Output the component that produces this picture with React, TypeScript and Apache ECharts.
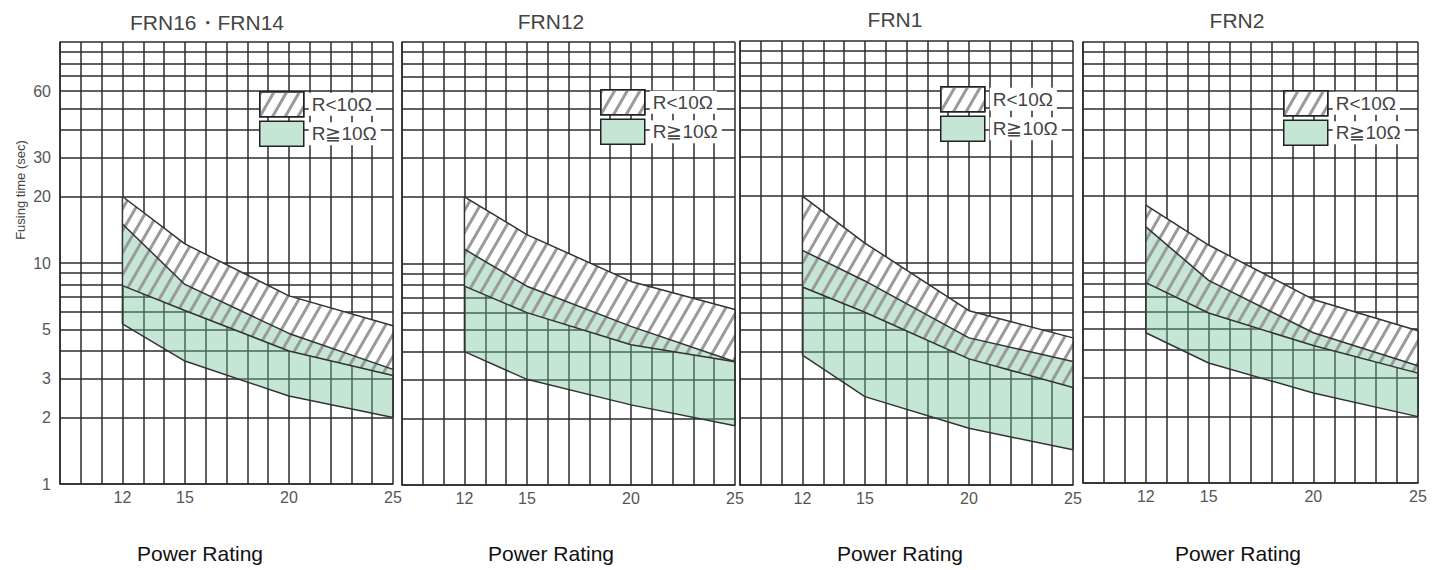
import React, { useEffect, useRef } from 'react';
import * as echarts from 'echarts';

// ---------------- data ----------------
const xs = [12, 15, 20, 25];
const panelTitles = ['FRN16・FRN14', 'FRN12', 'FRN1', 'FRN2'];
// R<10Ω band: upper boundary / lower boundary (one row per panel)
const rLt10Upper = [
  [20, 12.2, 7.1, 5.2],
  [20, 13.5, 8.3, 6.2],
  [20, 12.3, 6.1, 4.6],
  [18.2, 12, 6.8, 4.9],
];
const rLt10Lower = [
  [7.9, 6.1, 4.0, 3.1],
  [7.9, 6.0, 4.3, 3.6],
  [7.8, 6.0, 3.7, 2.75],
  [8.1, 5.9, 4.2, 3.15],
];
// R≧10Ω band: upper boundary / lower boundary
const rGe10Upper = [
  [15, 8.0, 4.8, 3.3],
  [11.6, 7.9, 5.2, 3.6],
  [11.4, 8.3, 4.6, 3.6],
  [14.5, 8.3, 4.8, 3.4],
];
const rGe10Lower = [
  [5.3, 3.6, 2.5, 2.0],
  [4.0, 3.0, 2.3, 1.85],
  [3.85, 2.5, 1.8, 1.44],
  [4.8, 3.5, 2.56, 2.0],
];
const yGridValues = [1, 2, 3, 4, 5, 6, 7, 8, 9, 10, 20, 30, 40, 50, 60, 70, 80, 90, 100];
const yTickLabels = [1, 2, 3, 5, 10, 20, 30, 60];
const xTickLabels = [12, 15, 20, 25];
const legendNames = ['R<10Ω', 'R≧10Ω'];

// ---------------- layout / style ----------------
const grids = [
  { left: 60, top: 42, width: 333, height: 442 },
  { left: 402, top: 42, width: 333, height: 443 },
  { left: 740, top: 41, width: 333, height: 444 },
  { left: 1083, top: 42, width: 335, height: 441 },
];
const legendPos = [[259, 91], [600, 89], [940, 86], [1283, 90]];
const titlePos = [[207, 22], [551, 21], [895, 19], [1237, 20]];
const xNamePos = [[200, 553], [551, 553], [900, 553], [1238, 553]];

const FONT = '"Liberation Sans", Arial, Helvetica, sans-serif';
const GREEN = '#c6e6d5';
// translucent green (over white it gives GREEN) so the grid shows through
const GREEN_TRANSLUCENT = '#70c096';
const GREEN_TRANSLUCENT_OPACITY = 0.4;
const GRID_COLOR = '#2b2b2b';
const CURVE_COLOR = '#333';

const hatch = {
  symbol: 'rect',
  symbolSize: 1,
  dashArrayX: [1, 0],
  dashArrayY: [3, 8],
  rotation: -Math.PI / 3,
  color: '#9a9a9a',
};

const pts = (ys: number[]) => xs.map((x, i) => [x, ys[i]]);
// closed band: along the upper boundary, then back along the lower boundary
const band = (upper: number[], lower: number[]) => [...pts(upper), ...pts(lower).reverse()];

function buildOption() {
  const series: any[] = [];
  grids.forEach((_, i) => {
    const A = rLt10Upper[i];
    const B = rGe10Upper[i];
    const C = rLt10Lower[i];
    const D = rGe10Lower[i];
    const common = {
      type: 'line',
      xAxisIndex: i,
      yAxisIndex: i,
      symbol: 'none',
      showSymbol: false,
      silent: true,
      animation: false,
    };
    // log grid lines + y tick labels
    series.push({
      ...common,
      name: '_grid' + i,
      data: [],
      z: 2,
      markLine: {
        silent: true,
        z: 2,
        animation: false,
        symbol: ['none', 'none'],
        lineStyle: { color: GRID_COLOR, width: 1.5, type: 'solid' },
        emphasis: { disabled: true },
        data: yGridValues.map((v) => ({
          yAxis: v,
          label:
            i === 0 && yTickLabels.includes(v)
              ? { show: true, position: 'start', formatter: String(v), distance: 9, fontSize: 16, color: '#555', fontFamily: FONT }
              : { show: false },
        })),
      },
    });
    const areaLine = { width: 0, opacity: 0 };
    // R≧10Ω only part: translucent green, grid visible through it
    series.push({
      ...common,
      name: 'R≧10Ω',
      data: band(C, D),
      color: GREEN,
      lineStyle: areaLine,
      areaStyle: { color: GREEN_TRANSLUCENT, opacity: GREEN_TRANSLUCENT_OPACITY, origin: 'start' },
      z: 3,
    });
    // overlap of both bands: green + hatch
    series.push({
      ...common,
      name: '_overlap' + i,
      data: band(B, C),
      color: GREEN,
      lineStyle: areaLine,
      areaStyle: { color: GREEN, opacity: 1, origin: 'start' },
      itemStyle: { color: GREEN, decal: hatch },
      z: 3,
    });
    // R<10Ω only part: white + hatch
    series.push({
      ...common,
      name: 'R<10Ω',
      data: band(A, B),
      color: '#ffffff',
      lineStyle: areaLine,
      areaStyle: { color: '#ffffff', opacity: 1, origin: 'start' },
      itemStyle: { color: '#ffffff', decal: hatch },
      z: 3,
    });
    // boundary curves
    [A, B, C, D].forEach((c, k) => {
      series.push({ ...common, name: '_curve' + i + '_' + k, data: pts(c), lineStyle: { color: CURVE_COLOR, width: 1.5 }, z: 4 });
    });
    // band edges
    series.push({ ...common, name: '_edgeL' + i, data: [[xs[0], D[0]], [xs[0], A[0]]], lineStyle: { color: CURVE_COLOR, width: 1.5 }, z: 4 });
    series.push({
      ...common,
      name: '_edgeR' + i,
      data: [[xs[xs.length - 1], D[D.length - 1]], [xs[xs.length - 1], A[A.length - 1]]],
      lineStyle: { color: GRID_COLOR, width: 1.5 },
      z: 4,
    });
  });

  return {
    animation: false,
    backgroundColor: '#ffffff',
    grid: grids.map((g) => ({ ...g, containLabel: false })),
    xAxis: grids.map((_, i) => ({
      type: 'value',
      gridIndex: i,
      min: 9,
      max: 25,
      interval: 1,
      axisLine: { show: true, lineStyle: { color: GRID_COLOR, width: 1.5 } },
      axisTick: { show: false },
      splitLine: { show: true, lineStyle: { color: GRID_COLOR, width: 1.5 } },
      axisLabel: {
        formatter: (v: number) => (xTickLabels.includes(v) ? String(v) : ''),
        fontSize: 16,
        color: '#555',
        margin: 5,
        fontFamily: FONT,
        showMinLabel: true,
        showMaxLabel: true,
      },
    })),
    yAxis: grids.map((_, i) => ({
      type: 'log',
      logBase: 10,
      gridIndex: i,
      min: 1,
      max: 100,
      axisLine: { show: true, lineStyle: { color: GRID_COLOR, width: 1.5 } },
      axisTick: { show: false },
      axisLabel: { show: false },
      splitLine: { show: false },
    })),
    legend: legendPos.map(([l, t]) => ({
      data: legendNames,
      orient: 'vertical',
      left: l,
      top: t,
      padding: 0,
      itemWidth: 44,
      itemHeight: 25,
      itemGap: 3,
      icon: 'rect',
      selectedMode: false,
      itemStyle: { borderColor: '#222', borderWidth: 1.5 },
      textStyle: { fontSize: 19, color: '#444', fontFamily: FONT, backgroundColor: '#ffffff', padding: [2, 4, 2, 3] },
    })),
    graphic: [
      ...panelTitles.map((t, i) => ({
        type: 'text',
        x: titlePos[i][0],
        y: titlePos[i][1],
        style: { text: t, font: `21px ${FONT}`, fill: '#444', align: 'center', verticalAlign: 'middle' },
      })),
      ...xNamePos.map(([x, y]) => ({
        type: 'text',
        x,
        y,
        style: { text: 'Power Rating', font: `21px ${FONT}`, fill: '#111', align: 'center', verticalAlign: 'middle' },
      })),
      {
        type: 'text',
        x: 20,
        y: 190,
        rotation: Math.PI / 2,
        style: { text: 'Fusing time (sec)', font: `13px ${FONT}`, fill: '#444', align: 'center', verticalAlign: 'middle' },
      },
    ],
    series,
  };
}

export default function App() {
  const ref = useRef<HTMLDivElement>(null);
  useEffect(() => {
    if (!ref.current) return;
    const chart = echarts.init(ref.current, undefined, { renderer: 'svg' });
    chart.setOption(buildOption() as any);
    return () => chart.dispose();
  }, []);
  return <div ref={ref} style={{ position: 'fixed', left: 0, top: 0, width: 1437, height: 570, background: '#fff' }} />;
}
